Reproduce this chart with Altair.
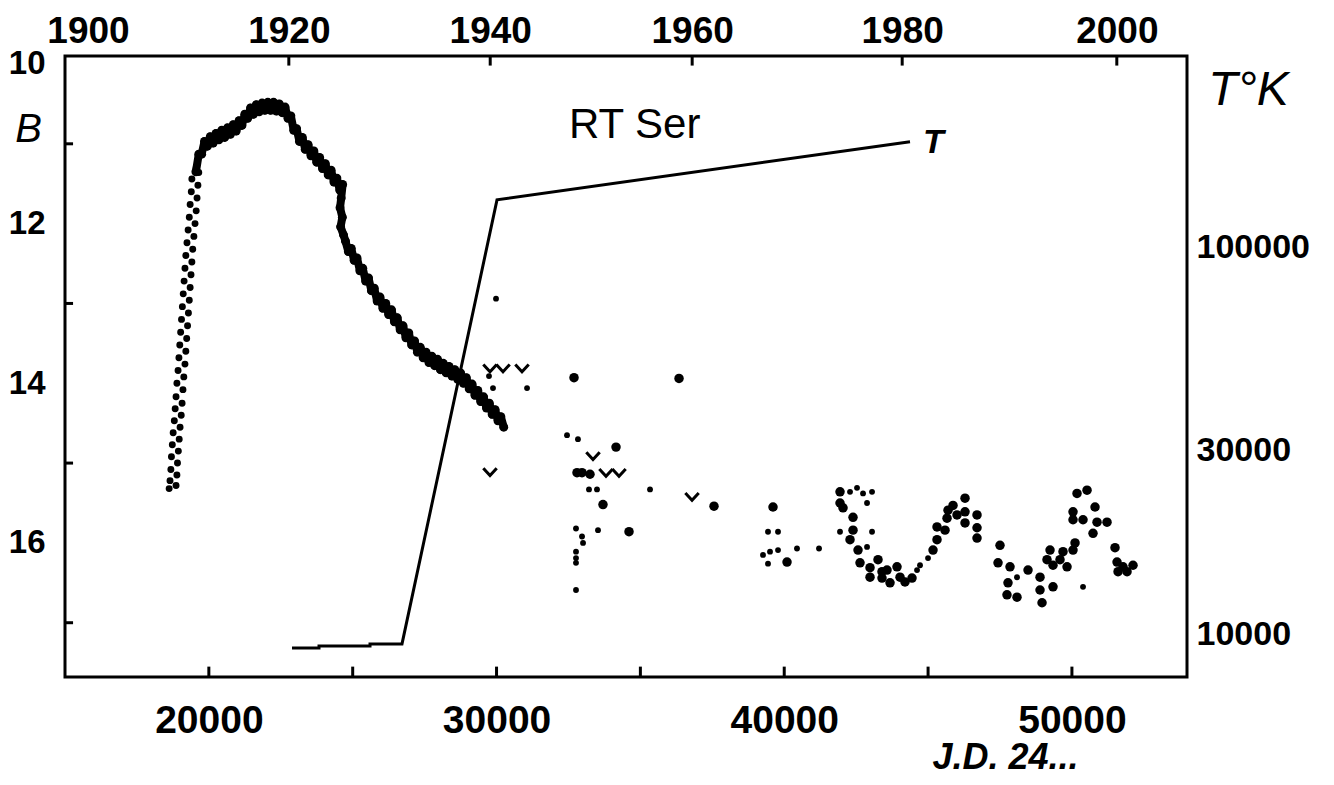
import altair as alt
import pandas as pd

# ---------------- data ----------------
# rising branch of the outburst (JD 24..., B mag)
rise_jd = [18620, 18860, 18650, 18890, 18680, 18910, 18700, 18940, 18730, 18970,
           18760, 19000, 18800, 19040, 18830, 19070, 18860, 19100, 18890, 19130,
           18930, 19170, 18960, 19200, 18990, 19230, 19020, 19260, 19050, 19290,
           19080, 19320, 19110, 19350, 19140, 19380, 19170, 19410, 19200, 19440,
           19240, 19480, 19280, 19520, 19320, 19560, 19350, 19590, 19390, 19620,
           19410, 19650, 19560]
rise_mag = [15.32, 15.28, 15.22, 15.15, 15.08, 15.00, 14.92, 14.85, 14.77, 14.70,
            14.62, 14.55, 14.47, 14.40, 14.32, 14.25, 14.17, 14.08, 14.00, 13.92,
            13.84, 13.76, 13.68, 13.60, 13.52, 13.44, 13.36, 13.28, 13.20, 13.12,
            13.04, 12.96, 12.88, 12.80, 12.72, 12.64, 12.56, 12.48, 12.40, 12.32,
            12.24, 12.16, 12.08, 12.00, 11.92, 11.84, 11.76, 11.68, 11.60, 11.52,
            11.44, 11.36, 11.30]

# maximum and slow decline (dense band)
band_jd = [19550, 19650, 19750, 19850, 19950, 20050, 20150, 20250, 20350, 20450,
           20550, 20650, 20750, 20850, 20950, 21050, 21150, 21250, 21350, 21450,
           21550, 21650, 21750, 21850, 21950, 22050, 22150, 22250, 22350, 22450,
           22550, 22650, 22750, 22850, 22950, 23050, 23150, 23250, 23350, 23450,
           23550, 23650, 23750, 23850, 23950, 24050, 24150, 24250, 24350, 24450,
           24550, 24650, 24600, 24560, 24640, 24580, 24680, 24750, 24850, 24950,
           25050, 25150, 25250, 25350, 25450, 25550, 25650, 25750, 25850, 25950,
           26050, 26150, 26250, 26350, 26450, 26550, 26650, 26750, 26850, 26950,
           27050, 27150, 27250, 27350, 27450, 27550, 27650, 27750, 27850, 27950,
           28050, 28150, 28250, 28350, 28450, 28550, 28650, 28750, 28850, 28950,
           29050, 29150, 29250, 29350, 29450, 29550, 29650, 29750, 29850, 29950,
           30050, 30150, 30250]
band_mag = [11.35, 11.13, 11.13, 10.97, 11.03, 10.91, 10.99, 10.87, 10.95, 10.83,
            10.92, 10.80, 10.88, 10.76, 10.84, 10.71, 10.77, 10.63, 10.68, 10.55,
            10.63, 10.51, 10.60, 10.49, 10.58, 10.48, 10.58, 10.48, 10.59, 10.50,
            10.61, 10.54, 10.68, 10.65, 10.83, 10.81, 10.97, 10.92, 11.07, 11.01,
            11.15, 11.09, 11.23, 11.17, 11.31, 11.25, 11.39, 11.33, 11.48, 11.43,
            11.58, 11.51, 11.68, 11.80, 11.92, 12.04, 12.14, 12.22, 12.35, 12.31,
            12.46, 12.43, 12.59, 12.56, 12.72, 12.68, 12.84, 12.81, 12.97, 12.92,
            13.06, 13.00, 13.14, 13.08, 13.23, 13.18, 13.33, 13.28, 13.43, 13.37,
            13.52, 13.47, 13.61, 13.55, 13.68, 13.61, 13.74, 13.66, 13.78, 13.70,
            13.83, 13.75, 13.87, 13.79, 13.91, 13.83, 13.95, 13.87, 14.00, 13.93,
            14.07, 14.01, 14.15, 14.09, 14.23, 14.17, 14.31, 14.25, 14.39, 14.33,
            14.47, 14.42, 14.55]

# later sparse observations: large dots
big_jd = [32693, 36343, 34153, 32797, 32971, 33249, 33700, 37559, 39610, 34605,
          40097,
          41939, 41939, 42043, 42287, 42391, 42391, 42565, 42634, 42982, 42982,
          43260, 43399, 43399, 43573, 43677, 43920, 44025, 44198, 44442, 45172,
          45311, 45311, 45589, 45659, 45694, 45867, 46006, 46284, 46284, 46284,
          46701, 46701, 46701,
          47500, 47431, 47848, 47778, 47743, 48091, 48474, 48891, 48891, 48961,
          49134, 49239, 49343, 49586, 49690, 49343, 49830, 50038, 50108, 50038,
          50038, 50177, 50525, 50386, 50803, 50872, 51220, 50733, 51498, 51568,
          51776, 52124, 51603, 51916]
big_mag = [13.93, 13.94, 14.80, 15.12, 15.12, 15.14, 15.52, 15.54, 15.55, 15.86,
           16.24,
           15.36, 15.50, 15.56, 15.96, 15.68, 15.84, 16.09, 16.25, 16.31, 16.43,
           16.21, 16.36, 16.44, 16.34, 16.50, 16.30, 16.43, 16.49, 16.44, 16.09,
           15.96, 15.80, 15.84, 15.69, 15.59, 15.53, 15.65, 15.44, 15.61, 15.75,
           15.65, 15.81, 15.94,
           16.03, 16.25, 16.30, 16.50, 16.65, 16.68, 16.34, 16.43, 16.59, 16.75,
           16.21, 16.09, 16.55, 16.21, 16.11, 16.28, 16.30, 16.09, 16.00, 15.71,
           15.61, 15.38, 15.34, 15.71, 15.55, 15.74, 15.74, 15.88, 16.06, 16.24,
           16.30, 16.28, 16.36, 16.36]

# later sparse observations: small dots
small_jd = [29982, 29738, 29877, 31060, 32450, 32830, 33214, 33492, 35335, 33527,
            32762, 32971, 33006, 32762, 32762, 32762, 32762,
            39436, 39784, 39262, 39506, 39784, 39436, 40444, 41209,
            42287, 42530, 42739, 43052, 42878, 41939, 42878, 43052, 44616, 44720,
            44998, 48091, 50386]
small_mag = [12.94, 13.91, 14.06, 14.06, 14.65, 14.70, 15.33, 15.33, 15.33, 15.84,
             15.82, 15.92, 16.00, 16.11, 16.19, 16.25, 16.59,
             15.86, 15.86, 16.15, 16.11, 16.09, 16.26, 16.07, 16.07,
             15.36, 15.31, 15.38, 15.36, 15.50, 15.86, 16.05, 15.86, 16.34, 16.28,
             16.19, 16.43, 16.55]

# upper limits ("v" marks)
lim_jd = [29773, 30225, 30885, 29773, 33353, 33805, 34257, 36795]
lim_mag = [13.81, 13.81, 13.81, 15.11, 14.91, 15.12, 15.12, 15.42]

# temperature curve (K, log scale on the right)
t_jd = [22891, 23829, 23829, 25602, 25602, 26714, 30016, 44372]
t_val = [9256, 9256, 9367, 9367, 9479, 9479, 133000, 188000]

# axis labels / ticks
bottom_labels = [20000, 30000, 40000, 50000]
bottom_ticks = [20000, 25000, 30000, 35000, 40000, 45000, 50000]
left_labels = [10, 12, 14, 16]
left_ticks = [11, 13, 15, 17]
right_labels = [10000, 30000, 100000]
year_jd = [15800, 22780, 29780, 36800, 44100, 51560]   # positions of 1900 ... 2000

# ---------------- chart ----------------
W, H = 1122, 621
FONT = "Liberation Sans"
X_MIN, X_MAX = 15000, 54000
B_MIN, B_MAX = 9.9, 17.68

xs = alt.Scale(domain=[X_MIN, X_MAX], nice=False, zero=False)
bs = alt.Scale(domain=[B_MIN, B_MAX], reverse=True, nice=False, zero=False)
ts = alt.Scale(type="log", domain=[7785, 313000], nice=False)

x_axis = alt.Axis(orient="bottom", values=bottom_labels, format="d", ticks=False,
                  domain=False, grid=False, labelFont=FONT, labelFontSize=39,
                  labelFontWeight="bold", labelColor="black", labelPadding=24,
                  labelFlush=False,
                  title="J.D. 24...", titleFont=FONT, titleFontSize=36,
                  titleFontStyle="italic", titleFontWeight="bold", titleColor="black",
                  titleX=940, titleY=80, titleAlign="center", titleBaseline="middle",
                  titleAngle=0)
y_axis = alt.Axis(orient="left", values=left_labels, ticks=False, domain=False,
                  grid=False, labelFont=FONT, labelFontSize=33, labelFontWeight="bold",
                  labelColor="black", labelPadding=20,
                  title="B", titleFont=FONT, titleFontSize=40, titleFontStyle="italic",
                  titleFontWeight="normal", titleColor="black", titleAngle=0,
                  titleX=-37, titleY=73, titleAlign="center", titleBaseline="middle")
top_axis = alt.Axis(orient="top", values=year_jd,
                    labelExpr="toString(round((datum.value-15020)/7305)*20+1900)",
                    ticks=False, domain=False, grid=False, labelFont=FONT,
                    labelFontSize=37, labelFontWeight="bold", labelColor="black",
                    labelPadding=6, labelFlush=False, title=None)
r_axis = alt.Axis(orient="right", values=right_labels, format="d", ticks=False,
                  domain=False, grid=False, labelFont=FONT, labelFontSize=34,
                  labelFontWeight="bold", labelColor="black", labelPadding=9,
                  title="T°K", titleFont=FONT, titleFontSize=48, titleFontStyle="italic",
                  titleFontWeight="normal", titleColor="black", titleAngle=0,
                  titleX=61, titleY=34, titleAlign="center", titleBaseline="middle")

rise_df = pd.DataFrame({"jd": rise_jd, "mag": rise_mag})
band_df = pd.DataFrame({"jd": band_jd, "mag": band_mag, "i": list(range(len(band_jd)))})
big_df = pd.DataFrame({"jd": big_jd, "mag": big_mag})
small_df = pd.DataFrame({"jd": small_jd, "mag": small_mag})
lim_df = pd.DataFrame({"jd": lim_jd, "mag": lim_mag})
t_df = pd.DataFrame({"jd": t_jd, "T": t_val, "i": list(range(len(t_jd)))})

X = alt.X("jd:Q", scale=xs, axis=x_axis)
Y = alt.Y("mag:Q", scale=bs, axis=y_axis)

rise = alt.Chart(rise_df).mark_point(filled=True, shape="circle", color="black",
                                     size=48, opacity=1).encode(x=X, y=Y)
band_line = alt.Chart(band_df).mark_line(color="black", strokeWidth=8,
                                         strokeJoin="round").encode(
    x=X, y=Y, order="i:Q")
band = alt.Chart(band_df).mark_point(filled=True, shape="circle", color="black",
                                     size=80, opacity=1).encode(x=X, y=Y)
big = alt.Chart(big_df).mark_point(filled=True, shape="circle", color="black",
                                   size=90, opacity=1).encode(x=X, y=Y)
small = alt.Chart(small_df).mark_point(filled=True, shape="circle", color="black",
                                       size=34, opacity=1).encode(x=X, y=Y)
lims = alt.Chart(lim_df).mark_point(filled=False, shape="M-1,-0.55L0,0.55L1,-0.55",
                                    color="black", size=180, strokeWidth=3,
                                    opacity=1).encode(x=X, y=Y)

title_df = pd.DataFrame({"jd": [34800], "mag": [10.93], "label": ["RT Ser"]})
title_txt = alt.Chart(title_df).mark_text(font=FONT, fontSize=42, align="center",
                                          baseline="alphabetic", color="black").encode(
    x=X, y=Y, text="label:N")

# inward tick marks on the frame
bt_df = pd.DataFrame({"jd": bottom_ticks,
                      "mag": [B_MAX] * len(bottom_ticks),
                      "mag2": [B_MAX - 0.13] * len(bottom_ticks)})
b_ticks = alt.Chart(bt_df).mark_rule(color="black", strokeWidth=3).encode(
    x=X, y=Y, y2=alt.Y2("mag2:Q"))
tt_df = pd.DataFrame({"jd": year_jd[1:],
                      "mag": [B_MIN] * (len(year_jd) - 1),
                      "mag2": [B_MIN + 0.12] * (len(year_jd) - 1)})
t_ticks = alt.Chart(tt_df).mark_rule(color="black", strokeWidth=3).encode(
    x=X, y=Y, y2=alt.Y2("mag2:Q"))
lt_df = pd.DataFrame({"mag": left_ticks,
                      "jd": [X_MIN] * len(left_ticks),
                      "jd2": [X_MIN + 280] * len(left_ticks)})
l_ticks = alt.Chart(lt_df).mark_rule(color="black", strokeWidth=3).encode(
    y=Y, x=X, x2=alt.X2("jd2:Q"))

mag_layer = alt.layer(b_ticks, t_ticks, l_ticks, rise, band_line, band, big, small,
                      lims, title_txt)

XT = alt.X("jd:Q", scale=xs, axis=top_axis)
YT = alt.Y("T:Q", scale=ts, axis=r_axis)
tline = alt.Chart(t_df).mark_line(color="black", strokeWidth=3).encode(
    x=XT, y=YT, order="i:Q")
tlab_df = pd.DataFrame({"jd": [44824], "T": [175800], "label": ["T"]})
tlab = alt.Chart(tlab_df).mark_text(font=FONT, fontSize=34, fontStyle="italic",
                                    fontWeight="bold", align="left",
                                    baseline="alphabetic", color="black").encode(
    x=XT, y=YT, text="label:N")

t_layer = alt.layer(tline, tlab)

chart = alt.layer(mag_layer, t_layer).resolve_scale(
    y="independent"
).resolve_axis(
    x="independent", y="independent"
).properties(
    width=W, height=H,
    autosize=alt.AutoSizeParams(type="none"),
    padding={"left": 65, "top": 56, "right": 147, "bottom": 108},
    background="white",
).configure_view(
    stroke="black", strokeWidth=3
)

chart.save("out.html", embed_options={"renderer": "svg", "actions": False})
